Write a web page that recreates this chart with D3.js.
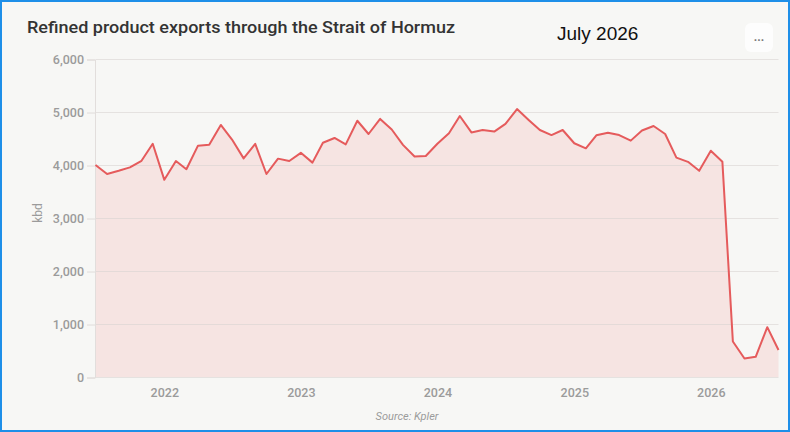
<!DOCTYPE html>
<html>
<head>
<meta charset="utf-8">
<script src="https://cdn.jsdelivr.net/npm/d3@7"></script>
<style>
  html, body { margin: 0; padding: 0; background: #f7f7f5; }
  svg { display: block; }
</style>
</head>
<body>
<div id="chart"></div>
<script>
const title = "Refined product exports through the Strait of Hormuz";
const dateNote = "July 2026";
const yAxisLabel = "kbd";
const sourceText = "Source: Kpler";
const startMonth = "2021-07";
const values = [
  4000, 3830, 3890, 3955, 4080, 4400,             // Jul–Dec 2021
  3720, 4075, 3920, 4365, 4380, 4755, 4480, 4125, 4400, 3830, 4120, 4075, // 2022
  4230, 4045, 4420, 4510, 4390, 4835, 4585, 4870, 4670, 4380, 4160, 4170, // 2023
  4400, 4600, 4925, 4615, 4660, 4630, 4775, 5055, 4850, 4660, 4565, 4660, // 2024
  4410, 4315, 4560, 4610, 4565, 4460, 4650, 4735, 4585, 4140, 4060, 3890, // 2025
  4270, 4060, 670, 350, 380, 940, 510             // Jan–Jul 2026
];
const yTicks = [0, 1000, 2000, 3000, 4000, 5000, 6000];
const xTickYears = [2022, 2023, 2024, 2025, 2026];

const W = 790, H = 432;
const parse = d3.timeParse("%Y-%m");
const start = parse(startMonth);
const data = values.map((v, i) => ({ date: d3.timeMonth.offset(start, i), value: v }));

const svg = d3.select("#chart").append("svg").attr("width", W).attr("height", H);

svg.append("rect").attr("x", 0).attr("y", 0).attr("width", W).attr("height", H).attr("fill", "#f7f7f5");

const x = d3.scaleTime()
  .domain([data[0].date, data[data.length - 1].date])
  .range([95.5, 778.5]);
const y = d3.scaleLinear().domain([0, 6000]).range([377, 59]);

// area
const area = d3.area().x(d => x(d.date)).y0(y(0)).y1(d => y(d.value));
svg.append("path").datum(data).attr("d", area).attr("fill", "#f6e4e2");

// gridlines
svg.append("g").selectAll("line").data(yTicks).join("line")
  .attr("x1", 95.5).attr("x2", 778.5)
  .attr("y1", d => y(d) + 0.5).attr("y2", d => y(d) + 0.5)
  .attr("stroke", "#d9d4d2").attr("stroke-opacity", 0.6).attr("stroke-width", 1);

// y axis
const yAxis = d3.axisLeft(y).tickValues(yTicks).tickSize(8).tickPadding(3)
  .tickFormat(d3.format(","));
const gy = svg.append("g").attr("transform", "translate(95,0.5)").call(yAxis);
gy.select(".domain").attr("stroke", "#e2dedc");
gy.selectAll(".tick line").attr("stroke", "#e0dcda");
gy.selectAll(".tick text").attr("fill", "#9b9b9b")
  .style("font-family", "Roboto, sans-serif").style("font-size", "12.5px").style("font-weight", 500);

// x axis
const xAxis = d3.axisBottom(x)
  .tickValues(xTickYears.map(yr => new Date(yr, 0, 1)))
  .tickFormat(d3.timeFormat("%Y")).tickSize(0).tickPadding(11);
const gx = svg.append("g").attr("transform", "translate(0,377)").call(xAxis);
gx.select(".domain").remove();
gx.selectAll(".tick text").attr("fill", "#9b9b9b")
  .style("font-family", "Roboto, sans-serif").style("font-size", "12.5px").style("font-weight", 500);

// line
const line = d3.line().x(d => x(d.date)).y(d => y(d.value));
svg.append("path").datum(data).attr("d", line)
  .attr("fill", "none").attr("stroke", "#e55b5c").attr("stroke-width", 2)
  .attr("stroke-linejoin", "round");

// y label
svg.append("text").attr("transform", "translate(42,213) rotate(-90)")
  .attr("text-anchor", "middle").attr("fill", "#9b9b9b")
  .style("font-family", "Roboto, sans-serif").style("font-size", "12px")
  .text(yAxisLabel);

// title
svg.append("text").attr("x", 27).attr("y", 33)
  .attr("fill", "#333333")
  .style("font-family", "Roboto, sans-serif").style("font-size", "16px").style("font-weight", 500)
  .attr("textLength", 428).attr("lengthAdjust", "spacingAndGlyphs")
  .text(title);

// date note
svg.append("text").attr("x", 557).attr("y", 40)
  .attr("fill", "#111111")
  .style("font-family", "'Liberation Sans', Arial, sans-serif").style("font-size", "19px")
  .text(dateNote);

// menu button
svg.append("rect").attr("x", 745).attr("y", 23).attr("width", 28).attr("height", 29)
  .attr("rx", 6).attr("fill", "#ffffff").attr("fill-opacity", 0.75);
svg.append("text").attr("x", 759).attr("y", 41).attr("text-anchor", "middle")
  .attr("fill", "#7a7a7a").style("font-family", "Roboto, sans-serif").style("font-size", "12px")
  .style("font-weight", 700)
  .text("...");

// source
svg.append("text").attr("x", 407).attr("y", 420).attr("text-anchor", "middle")
  .attr("fill", "#9b9b9b").style("font-family", "Roboto, sans-serif")
  .style("font-size", "11px").style("font-style", "italic")
  .text(sourceText);

// outer border
svg.append("rect").attr("x", 1).attr("y", 1).attr("width", W - 2).attr("height", H - 2)
  .attr("fill", "none").attr("stroke", "#1e8fe8").attr("stroke-width", 2);
</script>
</body>
</html>
